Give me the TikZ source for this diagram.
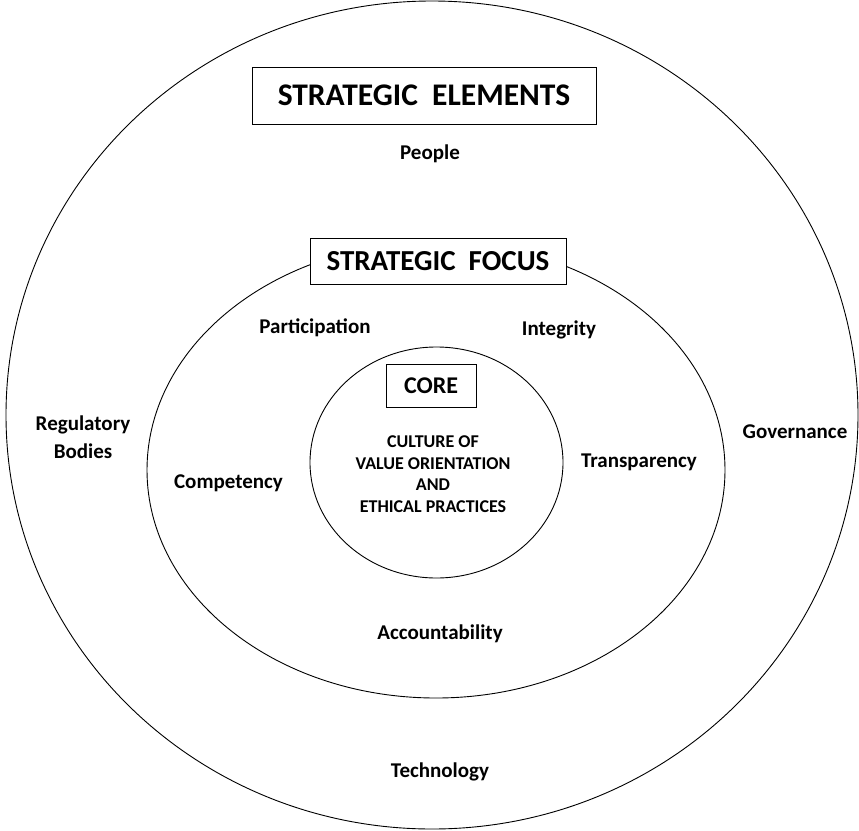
\documentclass[tikz,border=0pt]{standalone}
\usepackage{fontspec}
\setmainfont{Carlito}
\usetikzlibrary{shapes.geometric}
\begin{document}
\begin{tikzpicture}[x=1pt,y=-1pt,
  ring/.style={draw,ellipse,line width=0.9pt,inner sep=0pt},
  titlebox/.style={draw,fill=white,line width=0.9pt,inner sep=0pt,font=\bfseries},
  lbl/.style={font=\fontsize{21}{28}\selectfont\bfseries,anchor=base,inner sep=0pt,align=center},
  coretext/.style={font=\fontsize{18}{21.5}\selectfont\bfseries,anchor=base,inner sep=0pt,align=center}]
  \useasboundingbox (0,0) rectangle (859,830);
  % three nested rings
  \node[ring,minimum width=852pt,minimum height=828pt] (outer) at (432,415) {};
  \node[ring,minimum width=578pt,minimum height=456pt] (middle) at (436,470) {};
  \node[ring,minimum width=253pt,minimum height=231pt] (inner) at (436.5,462.5) {};
  % headings
  \node[titlebox,minimum width=344pt,minimum height=57pt,font=\fontsize{31.5}{36}\selectfont\bfseries] (elements) at (424,95.5) {STRATEGIC\ \ ELEMENTS};
  \node[titlebox,minimum width=256pt,minimum height=46pt,font=\fontsize{29}{34}\selectfont\bfseries] (focus) at (438,261) {STRATEGIC\ \ FOCUS};
  \node[titlebox,minimum width=90pt,minimum height=43pt,font=\fontsize{24}{28}\selectfont\bfseries] (core) at (431,385.5) {CORE};
  % outer ring labels (multi-line nodes sit on their last baseline)
  \node[lbl] (people) at (430,159) {People};
  \node[lbl] (regulatory) at (83,458) {Regulatory\\Bodies};
  \node[lbl] (governance) at (795,438) {Governance};
  \node[lbl] (technology) at (440,777) {Technology};
  % middle ring labels
  \node[lbl] (participation) at (315,333) {Participation};
  \node[lbl] (integrity) at (559,335) {Integrity};
  \node[lbl] (competency) at (228.5,488) {Competency};
  \node[lbl] (transparency) at (639,467) {Transparency};
  \node[lbl] (accountability) at (440,639) {Accountability};
  % core statement
  \node[coretext] (culture) at (433,512) {CULTURE OF\\VALUE ORIENTATION\\AND\\ETHICAL PRACTICES};
\end{tikzpicture}
\end{document}
